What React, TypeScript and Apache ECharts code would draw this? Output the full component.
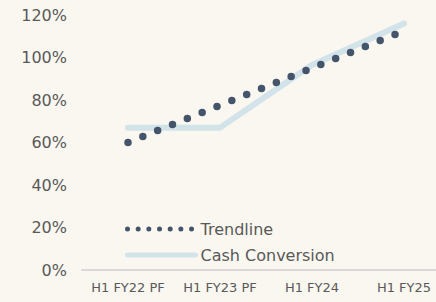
import React, { useEffect, useRef } from "react";
import * as echarts from "echarts";

const categories = ["H1 FY22 PF", "H1 FY23 PF", "H1 FY24", "H1 FY25"];
const cashConversion = [67, 67, 96.5, 116];
const trendline = [60, 77.5, 95, 112.5];
const yTicks = { min: 0, max: 120, interval: 20 };

const FONT = "DejaVu Sans";
const TEXT = "#595959";
const DARK = "#44546A";
const LIGHT = "#D3E3EA";

export default function App() {
  const ref = useRef<HTMLDivElement>(null);
  useEffect(() => {
    if (!ref.current) return;
    const chart = echarts.init(ref.current, null, { renderer: "svg" });
    chart.setOption({
      animation: false,
      backgroundColor: "#FAF7F0",
      textStyle: { fontFamily: FONT },
      grid: {
        left: 82,
        top: 15,
        bottom: 32,
        width: 368,
        outerBoundsMode: "none",
        containLabel: false,
      },
      legend: {
        orient: "vertical",
        left: 120,
        top: 216,
        itemWidth: 68,
        itemHeight: 14,
        itemGap: 10,
        textStyle: { fontFamily: FONT, fontSize: 16, color: TEXT },
        data: [
          {
            name: "Trendline",
            itemStyle: { opacity: 0 },
            lineStyle: { color: DARK, width: 5, type: [0, 10.67], cap: "round" },
          },
          {
            name: "Cash Conversion",
            itemStyle: { opacity: 0 },
            lineStyle: { color: LIGHT, width: 5, cap: "round" },
          },
        ],
      },
      xAxis: {
        type: "category",
        data: categories,
        boundaryGap: true,
        axisTick: { show: false },
        axisLine: { lineStyle: { color: "#D9D9D9", width: 2 } },
        axisLabel: {
          fontFamily: FONT,
          fontSize: 13,
          color: TEXT,
          margin: 11,
          interval: 0,
        },
      },
      yAxis: {
        type: "value",
        min: yTicks.min,
        max: yTicks.max,
        interval: yTicks.interval,
        splitLine: { show: false },
        axisLine: { show: false },
        axisTick: { show: false },
        axisLabel: {
          fontFamily: FONT,
          fontSize: 16,
          color: TEXT,
          margin: 15,
          formatter: "{value}%",
        },
      },
      series: [
        {
          name: "Cash Conversion",
          type: "line",
          data: cashConversion,
          symbol: "none",
          lineStyle: { color: LIGHT, width: 6, cap: "round", join: "round" },
          itemStyle: { color: LIGHT },
          z: 2,
        },
        {
          name: "Trendline",
          type: "line",
          data: trendline,
          symbol: "none",
          lineStyle: { color: DARK, width: 7.5, type: [0, 16], cap: "round" },
          itemStyle: { color: DARK },
          z: 3,
        },
      ],
    });
    return () => chart.dispose();
  }, []);
  return (
    <div
      ref={ref}
      style={{ position: "fixed", left: 0, top: 0, width: 436, height: 302 }}
    />
  );
}
